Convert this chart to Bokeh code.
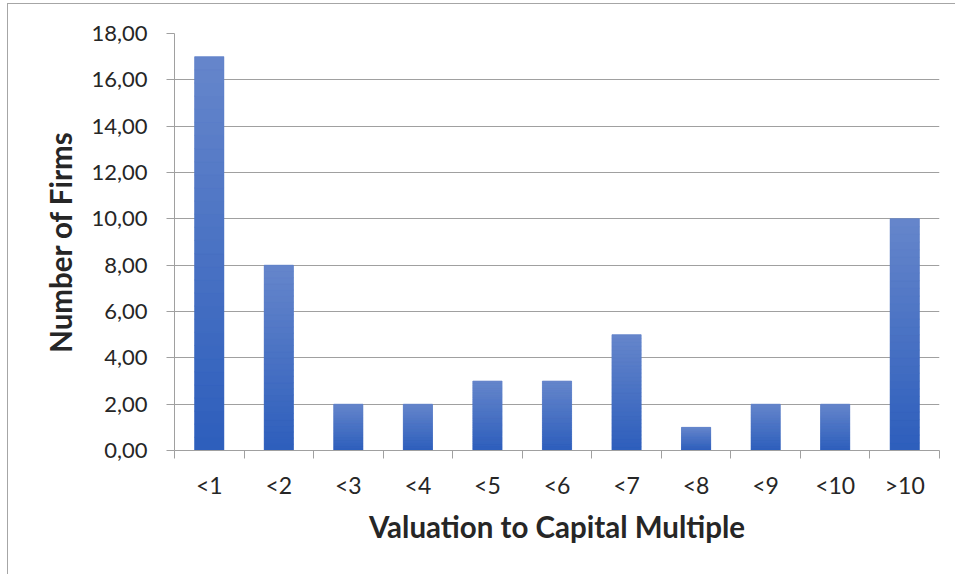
import numpy as np
from bokeh.plotting import figure
from bokeh.models import Range1d, FixedTicker, CustomJSTickFormatter
from bokeh.embed import file_html
from bokeh.resources import INLINE

categories = ["<1", "<2", "<3", "<4", "<5", "<6", "<7", "<8", "<9", "<10", ">10"]
counts = [17, 8, 2, 2, 3, 3, 5, 1, 2, 2, 10]
y_ticks = [0, 2, 4, 6, 8, 10, 12, 14, 16, 18]

FONT = "Lato"
TXT = "#262626"
GRID = "#a0a0a0"

n = len(categories)
p = figure(width=948, height=571, output_backend="svg", toolbar_location=None,
           x_range=Range1d(0, n), y_range=Range1d(0, 18),
           min_border_left=166, min_border_right=17, min_border_top=29, min_border_bottom=125)
p.styles = {"border-left": "1px solid #a6a6a6", "border-top": "1px solid #a6a6a6",
            "margin-left": "7px", "margin-top": "3px"}
p.outline_line_color = None
p.xgrid.visible = False
p.ygrid.grid_line_color = GRID
p.ygrid.grid_line_width = 1

centers = np.arange(n) + 0.5
vals = np.array(counts, dtype=float)

# base bars (mid colour) then gradient slices on top
p.vbar(x=centers, width=0.42, bottom=0, top=vals, fill_color="#4470c6", line_color=None)
N = 30
top_rgb = np.array([0x66, 0x86, 0xcb])
bot_rgb = np.array([0x2d, 0x5e, 0xbc])
xs, bs, ts, cs = [], [], [], []
for i in range(n):
    for k in range(N):
        f = (k + 0.5) / N
        rgb = (bot_rgb + (top_rgb - bot_rgb) * f).round().astype(int)
        xs.append(centers[i]); bs.append(vals[i] * k / N); ts.append(vals[i] * (k + 1) / N)
        cs.append("#%02x%02x%02x" % tuple(rgb))
p.vbar(x=xs, width=0.42, bottom=bs, top=ts, fill_color=cs, line_color=cs, line_width=0.6)

# x axis
xa = p.xaxis[0]
xa.ticker = FixedTicker(ticks=list(centers), minor_ticks=list(range(n + 1)))
xa.formatter = CustomJSTickFormatter(args=dict(labels=categories),
                                     code="return labels[Math.floor(tick)];")
xa.major_tick_line_color = None
xa.minor_tick_line_color = GRID
xa.minor_tick_out = 8
xa.minor_tick_in = 0
xa.axis_line_color = GRID
xa.major_label_text_font = FONT
xa.major_label_text_font_size = "23px"
xa.major_label_text_color = TXT
xa.major_label_standoff = 12
xa.axis_label = "Valuation to Capital Multiple"
xa.axis_label_text_font = FONT
xa.axis_label_text_font_style = "bold"
xa.axis_label_text_font_size = "29.5px"
xa.axis_label_text_color = TXT
xa.axis_label_standoff = 7

ya = p.yaxis[0]
ya.ticker = FixedTicker(ticks=y_ticks)
ya.formatter = CustomJSTickFormatter(code="return tick.toFixed(2).replace('.', ',');")
ya.major_tick_line_color = GRID
ya.major_tick_out = 8
ya.major_tick_in = 0
ya.minor_tick_line_color = None
ya.axis_line_color = GRID
ya.major_label_text_font = FONT
ya.major_label_text_font_size = "22px"
ya.major_label_text_color = TXT
ya.major_label_standoff = 19
ya.axis_label = "Number of Firms"
ya.axis_label_text_font = FONT
ya.axis_label_text_font_style = "bold"
ya.axis_label_text_font_size = "29.5px"
ya.axis_label_text_color = TXT
ya.axis_label_standoff = 10

open("out.html", "w").write(file_html(p, INLINE))
